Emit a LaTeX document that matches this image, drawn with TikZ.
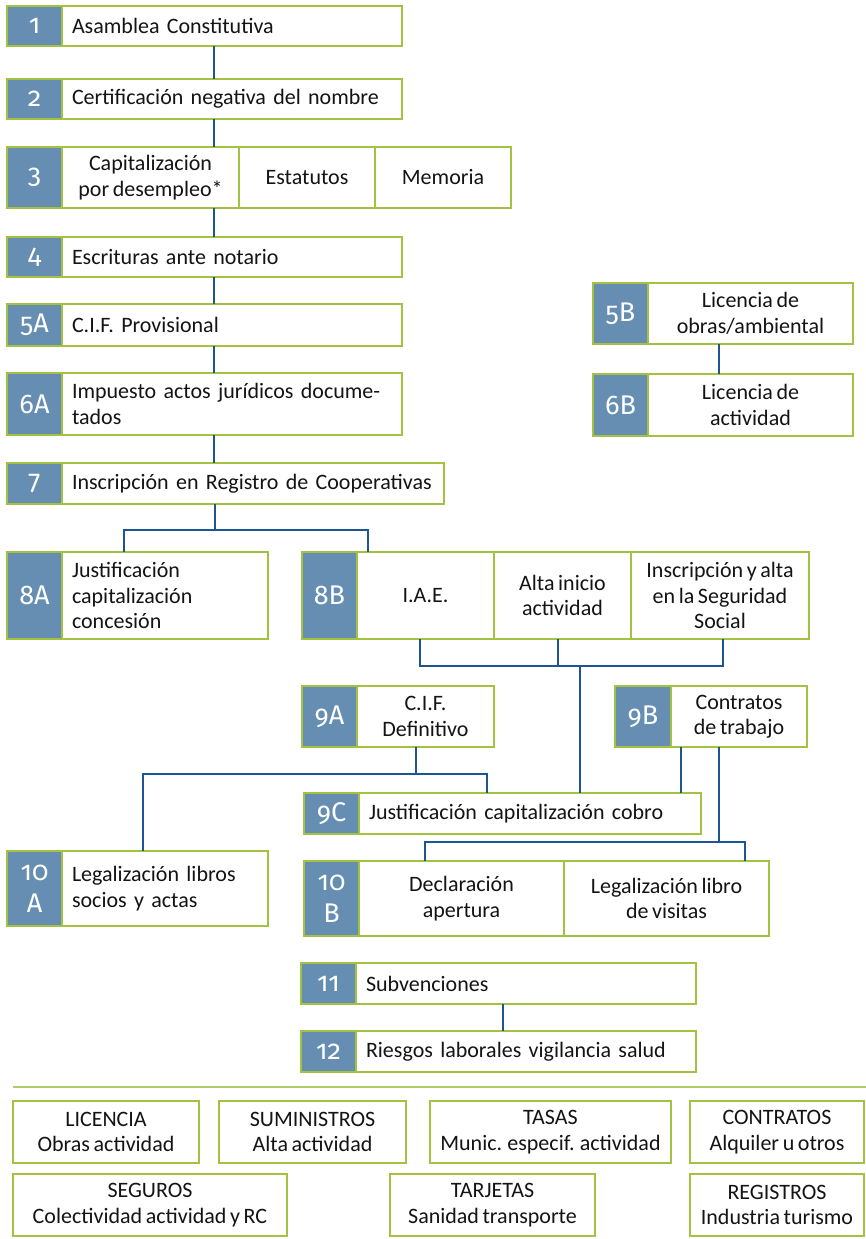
\documentclass[tikz,border=0pt]{standalone}
\usepackage{fontspec}
\newfontfamily\candf{Carlito}
\newfontfamily\candnumf[Numbers=OldStyle]{Fira Sans}
\newcommand\mymainfont{\candf\fontsize{22}{25.5}\selectfont\spaceskip=3.6pt plus 1pt minus 0.5pt\relax}
\newcommand\mynumfont{\candnumf\fontsize{27}{32}\selectfont}
\definecolor{nblue}{RGB}{101,142,178}
\definecolor{grn}{RGB}{163,194,64}
\definecolor{sepgrn}{RGB}{176,204,104}
\definecolor{lblue}{RGB}{31,84,146}
\definecolor{txt}{RGB}{20,20,20}
\tikzset{
 base/.style={draw=grn, line width=1.6pt, anchor=north west, inner sep=0pt, outer sep=0pt},
 num/.style={base, fill=nblue, text=white, font=\mynumfont, align=center},
 lcell/.style={base, fill=white, text=txt, font=\mymainfont, align=left, inner xsep=10pt},
 ccell/.style={base, fill=white, text=txt, font=\mymainfont, align=center},
 conn/.style={draw=lblue, line width=1.3pt},
 sepline/.style={draw=sepgrn, line width=2.6pt},
}
\begin{document}
\begin{tikzpicture}[x=1pt,y=-1pt]
\useasboundingbox (0,0) rectangle (866,1239);
% column 1
\node[num, minimum width=55pt, minimum height=40pt] (n1) at (7,6) {1};
\node[lcell, text width=320pt, minimum height=40pt] (t1) at (62,6) {Asamblea Constitutiva};
\node[num, minimum width=55pt, minimum height=40pt] (n2) at (7,79) {2};
\node[lcell, text width=320pt, minimum height=40pt] (t2) at (62,79) {Certificación negativa del nombre};
\node[num, minimum width=55pt, minimum height=61pt] (n3) at (7,147) {3};
\node[ccell, minimum width=177pt, minimum height=61pt] (c3a) at (62,147) {Capitalización\\por desempleo*};
\node[ccell, minimum width=136pt, minimum height=61pt] (c3b) at (239,147) {Estatutos};
\node[ccell, minimum width=136pt, minimum height=61pt] (c3c) at (375,147) {Memoria};
\node[num, minimum width=55pt, minimum height=40pt] (n4) at (7,237) {4};
\node[lcell, text width=320pt, minimum height=40pt] (t4) at (62,237) {Escrituras ante notario};
\node[num, minimum width=55pt, minimum height=42pt] (n5a) at (7,304) {5A};
\node[lcell, text width=320pt, minimum height=42pt] (t5a) at (62,304) {C.I.F. Provisional};
\node[num, minimum width=55pt, minimum height=62pt] (n6a) at (7,373) {6A};
\node[lcell, text width=320pt, minimum height=62pt] (t6a) at (62,373) {Impuesto actos jurídicos docume-\\tados};
\node[num, minimum width=55pt, minimum height=41pt] (n7) at (7,463) {7};
\node[lcell, text width=362pt, minimum height=41pt] (t7) at (62,463) {Inscripción en Registro de Cooperativas};
% 5B 6B
\node[num, minimum width=55pt, minimum height=61pt] (n5b) at (593,283) {5B};
\node[ccell, minimum width=205pt, minimum height=61pt] (t5b) at (648,283) {Licencia de\\obras/ambiental};
\node[num, minimum width=55pt, minimum height=62pt] (n6b) at (593,374) {6B};
\node[ccell, minimum width=205pt, minimum height=62pt] (t6b) at (648,374) {Licencia de\\actividad};
% 8
\node[num, minimum width=55pt, minimum height=87pt] (n8a) at (7,552) {8A};
\node[lcell, text width=186pt, minimum height=87pt] (t8a) at (62,552) {Justificación\\capitalización\\concesión};
\node[num, minimum width=55pt, minimum height=87pt] (n8b) at (302,552) {8B};
\node[ccell, minimum width=137pt, minimum height=87pt] (c8b1) at (357,552) {I.A.E.};
\node[ccell, minimum width=137pt, minimum height=87pt] (c8b2) at (494,552) {Alta inicio\\actividad};
\node[ccell, minimum width=178pt, minimum height=87pt] (c8b3) at (631,552) {Inscripción y alta\\en la Seguridad\\Social};
% 9
\node[num, minimum width=55pt, minimum height=61pt] (n9a) at (302,686) {9A};
\node[ccell, minimum width=137pt, minimum height=61pt] (t9a) at (357,686) {C.I.F.\\Definitivo};
\node[num, minimum width=56pt, minimum height=61pt] (n9b) at (615,686) {9B};
\node[ccell, minimum width=136pt, minimum height=61pt] (t9b) at (671,686) {Contratos\\de trabajo};
\node[num, minimum width=55pt, minimum height=41pt] (n9c) at (304,793) {9C};
\node[lcell, text width=322pt, minimum height=41pt] (t9c) at (359,793) {Justificación capitalización cobro};
% 10
\node[num, minimum width=55pt, minimum height=75pt] (n10a) at (7,851) {10\\A};
\node[lcell, text width=186pt, minimum height=75pt] (t10a) at (62,851) {Legalización libros\\socios y actas};
\node[num, minimum width=55pt, minimum height=75pt] (n10b) at (304,861) {10\\B};
\node[ccell, minimum width=205pt, minimum height=75pt] (c10b1) at (359,861) {Declaración\\apertura};
\node[ccell, minimum width=205pt, minimum height=75pt] (c10b2) at (564,861) {Legalización libro\\de visitas};
% 11 12
\node[num, minimum width=55pt, minimum height=41pt] (n11) at (301,963) {11};
\node[lcell, text width=320pt, minimum height=41pt] (t11) at (356,963) {Subvenciones};
\node[num, minimum width=55pt, minimum height=41pt] (n12) at (301,1031) {12};
\node[lcell, text width=320pt, minimum height=41pt] (t12) at (356,1031) {Riesgos laborales vigilancia salud};
% bottom legend
\draw[sepline] (13,1087) -- (866,1087);
\node[ccell, minimum width=186pt, minimum height=62pt] (b1) at (13,1101) {LICENCIA\\Obras actividad};
\node[ccell, minimum width=187pt, minimum height=62pt] (b2) at (219,1101) {SUMINISTROS\\Alta actividad};
\node[ccell, minimum width=241pt, minimum height=62pt] (b3) at (430,1101) {TASAS\\Munic. especif. actividad};
\node[ccell, minimum width=174pt, minimum height=62pt] (b4) at (690,1101) {CONTRATOS\\Alquiler u otros};
\node[ccell, minimum width=274pt, minimum height=62pt] (b5) at (13,1174) {SEGUROS\\Colectividad actividad y RC};
\node[ccell, minimum width=205pt, minimum height=62pt] (b6) at (390,1174) {TARJETAS\\Sanidad transporte};
\node[ccell, minimum width=174pt, minimum height=62pt] (b7) at (690,1174) {REGISTROS\\Industria turismo};
% connector coordinates
\coordinate (xm) at (214,0);
\coordinate (x5b) at (719,0);
\coordinate (j7) at (215,530);
\coordinate (j8) at (580,666);
\coordinate (j9) at (416,774);
\coordinate (j9b) at (719,842);
\coordinate (x12) at (503,0);
% connectors
\draw[conn] (t1.south -| xm) -- (t2.north -| xm);
\draw[conn] (t2.south -| xm) -- (c3a.north -| xm);
\draw[conn] (c3a.south -| xm) -- (t4.north -| xm);
\draw[conn] (t4.south -| xm) -- (t5a.north -| xm);
\draw[conn] (t5a.south -| xm) -- (t6a.north -| xm);
\draw[conn] (t6a.south -| xm) -- (t7.north -| xm);
\draw[conn] (t5b.south -| x5b) -- (t6b.north -| x5b);
\draw[conn] (t7.south -| j7) -- (j7);
\draw[conn] (t8a.north -| 124,0) |- (j7) -| (c8b1.north -| 368,0);
\draw[conn] (c8b1.south -| 420,0) |- (j8) -| (c8b3.south -| 723,0);
\draw[conn] (c8b2.south -| 558,0) |- (j8);
\draw[conn] (j8) -- (t9c.north -| j8);
\draw[conn] (t9a.south -| j9) -- (j9);
\draw[conn] (t10a.north -| 143,0) |- (j9) -| (t9c.north -| 487,0);
\draw[conn] (t9b.south -| 681,0) -- (t9c.north -| 681,0);
\draw[conn] (t9b.south -| j9b) -- (j9b);
\draw[conn] (c10b1.north -| 425,0) |- (j9b) -| (c10b2.north -| 745,0);
\draw[conn] (t11.south -| x12) -- (t12.north -| x12);
\end{tikzpicture}
\end{document}
